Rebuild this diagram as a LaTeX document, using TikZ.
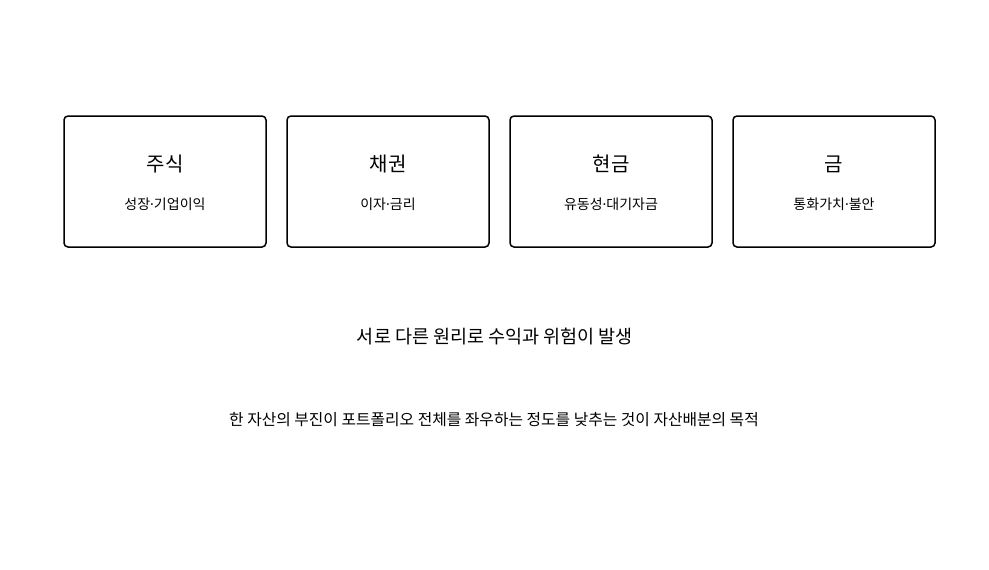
\documentclass[tikz,border=0pt]{standalone}
\usepackage{fontspec}
\setmainfont{Noto Sans CJK KR}
\newfontfamily\dotfont{Noto Sans}
\newcommand{\md}{{\dotfont ·}}
\begin{document}
\begin{tikzpicture}[x=1pt,y=-1pt,
  card/.style={draw=black,line width=1.5pt,rounded corners=4pt,minimum width=202pt,minimum height=131pt,inner sep=0pt},
  ttl/.style={font=\fontsize{20}{24}\selectfont,inner sep=0pt,anchor=center},
  sub/.style={font=\fontsize{14}{17}\selectfont,inner sep=0pt,anchor=center}]
\useasboundingbox[fill=white] (0,0) rectangle (989,570);
\node[card] (b1) at (165,181.5) {};
\node[card] (b2) at (388,181.5) {};
\node[card] (b3) at (611,181.5) {};
\node[card] (b4) at (834,181.5) {};
\node[ttl] (t1) at (165,164) {주식};
\node[ttl] (t2) at (388,164) {채권};
\node[ttl] (t3) at (611,164) {현금};
\node[ttl] (t4) at (834,164) {금};
\node[sub] (s1) at (165,204) {성장\md 기업이익};
\node[sub] (s2) at (388,204) {이자\md 금리};
\node[sub] (s3) at (611,204) {유동성\md 대기자금};
\node[sub] (s4) at (834,204) {통화가치\md 불안};
\node[font=\fontsize{18.5}{22}\selectfont,inner sep=0pt] (m) at (495,336.5) {서로 다른 원리로 수익과 위험이 발생};
\node[font=\fontsize{15.8}{19}\selectfont,inner sep=0pt] (n) at (494,419.5) {한 자산의 부진이 포트폴리오 전체를 좌우하는 정도를 낮추는 것이 자산배분의 목적};
\end{tikzpicture}
\end{document}
